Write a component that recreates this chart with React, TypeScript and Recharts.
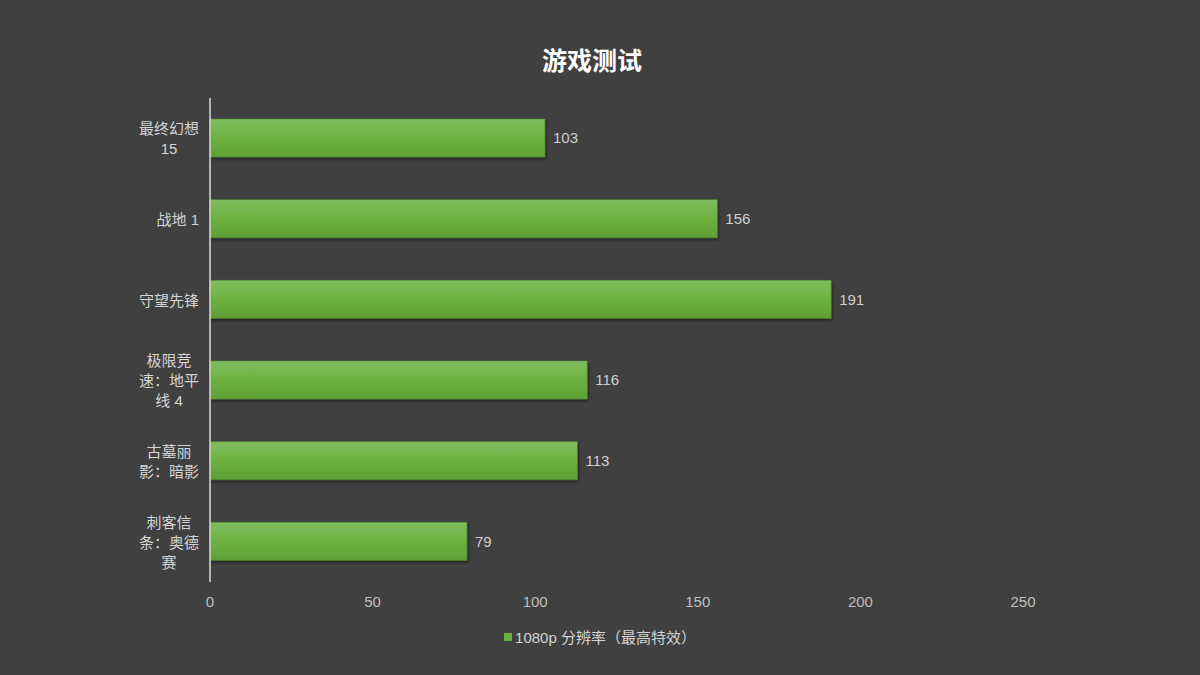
import { BarChart, Bar, XAxis, YAxis, LabelList, Rectangle } from 'recharts';

const games = [
  '最终幻想\n15',
  '战地 1',
  '守望先锋',
  '极限竞\n速：地平\n线 4',
  '古墓丽\n影：暗影',
  '刺客信\n条：奥德\n赛',
];
const fps1080 = [103, 156, 191, 116, 113, 79];
const xTicks = [0, 50, 100, 150, 200, 250];
const seriesName = '1080p 分辨率（最高特效）';
const title = '游戏测试';

const data = games.map((name, i) => ({ name, value: fps1080[i] }));

const FONT = '"Liberation Sans", "Noto Sans CJK SC", sans-serif';
const LABEL = '#d4d4d4';

const textWidth = (s: string, size: number) =>
  Array.from(s).reduce((w, c) => w + (c.charCodeAt(0) > 0x2e80 ? size : c === ' ' ? size * 0.28 : size * 0.56), 0);

function GameTick({ x, y, payload }: any) {
  const lines: string[] = String(payload.value).split('\n');
  const size = 15;
  const lh = 20;
  const right = x - 3;
  const block = Math.max(...lines.map(l => textWidth(l, size)));
  const cx = lines.length > 1 ? right - block / 2 : right;
  const y0 = y - ((lines.length - 1) * lh) / 2;
  return (
    <text x={cx} y={y0} fill={LABEL} fontSize={size} fontFamily={FONT} textAnchor={lines.length > 1 ? 'middle' : 'end'} dominantBaseline="central">
      {lines.map((l, i) => (
        <tspan key={i} x={cx} dy={i === 0 ? 0 : lh}>{l}</tspan>
      ))}
    </text>
  );
}

const GreenBar = (props: any) => (
  <Rectangle {...props} fill="url(#barGrad)" stroke="#4f8f2c" strokeWidth={0.6} filter="url(#barShadow)" />
);

export default function App() {
  return (
    <div style={{ position: 'fixed', left: 0, top: 0, width: 1200, height: 675, background: '#404040', fontFamily: FONT }}>
      <div style={{ position: 'absolute', top: 41, left: 0, width: 1184, textAlign: 'center', color: '#ffffff', fontSize: 25, fontWeight: 'bold', fontFamily: '"Noto Sans CJK SC", sans-serif' }}>
        {title}
      </div>
      <BarChart
        width={1200}
        height={675}
        data={data}
        layout="vertical"
        margin={{ top: 98, right: 177, bottom: 63, left: 10 }}
        barSize={38}
      >
        <defs>
          <linearGradient id="barGrad" x1="0" y1="0" x2="0" y2="1">
            <stop offset="0%" stopColor="#81bd61" />
            <stop offset="50%" stopColor="#6db23f" />
            <stop offset="100%" stopColor="#5f9f35" />
          </linearGradient>
          <filter id="barShadow" x="-5%" y="-20%" width="110%" height="160%">
            <feDropShadow dx="1" dy="2" stdDeviation="1.5" floodColor="#000" floodOpacity="0.45" />
          </filter>
        </defs>
        <XAxis
          type="number"
          domain={[0, 250]}
          ticks={xTicks}
          axisLine={false}
          tickLine={false}
          height={30}
          tick={{ fill: '#bfbfbf', fontSize: 15, fontFamily: FONT }}
          tickMargin={8}
        />
        <YAxis
          type="category"
          dataKey="name"
          width={200}
          axisLine={{ stroke: '#d9d9d9', strokeWidth: 1.5 }}
          tickLine={false}
          tick={<GameTick />}
          interval={0}
        />
        <Bar dataKey="value" name={seriesName} shape={<GreenBar />} isAnimationActive={false}>
          <LabelList dataKey="value" position="right" offset={8} fill="#cfcfcf" fontSize={15} fontFamily={FONT} />
        </Bar>
      </BarChart>
      <div style={{ position: 'absolute', top: 626, left: 0, width: 1200, textAlign: 'center', color: LABEL, fontSize: 15, fontFamily: FONT }}>
        <span style={{ display: 'inline-block', width: 8, height: 8, background: '#6db23f', marginRight: 3, verticalAlign: 'middle', position: 'relative', top: -2 }} />
        {seriesName}
      </div>
    </div>
  );
}
